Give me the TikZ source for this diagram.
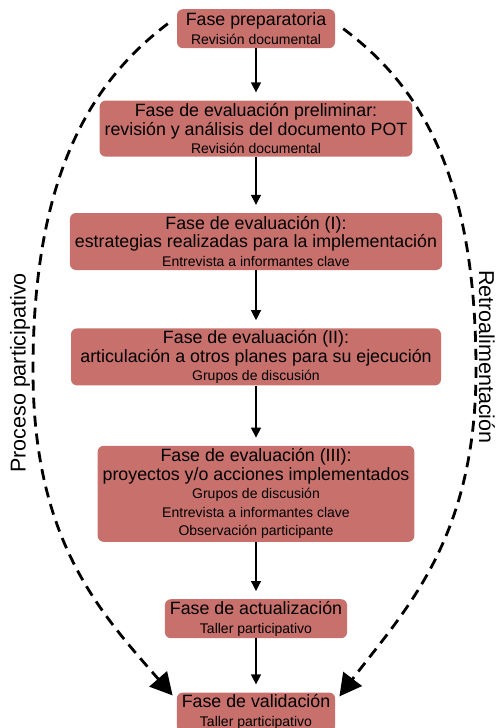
\documentclass[tikz,border=0pt]{standalone}
\usepackage{fontspec}
\setmainfont{Liberation Sans}
\usetikzlibrary{positioning, arrows.meta}
\definecolor{fasecolor}{RGB}{200,113,108}
\newcommand{\metodo}{\fontsize{14}{19}\selectfont}

\begin{document}
\begin{tikzpicture}[
    	x=1pt, y=-1pt,
    	fase/.style={rectangle, rounded corners=6pt, fill=fasecolor, align=center, inner xsep=5pt, inner ysep=2pt, font=\fontsize{17.8}{18.5}\selectfont},
    	flecha/.style={line width=1.2pt, -{Triangle[length=10pt,width=10pt]}, shorten >=8pt},
    	retro/.style={line width=2.8pt, dash pattern=on 11pt off 7pt, -{Triangle[length=22pt,width=23pt]}},
    	etiqueta/.style={font=\fontsize{21.5}{24}\selectfont}
    	]
    	\useasboundingbox (0,0) rectangle (498,728);
    	
    	% fases
    	\node (prep) [fase, minimum height=39pt, minimum width=158pt] at (256,28.7) {Fase preparatoria\\ \metodo Revisión documental};
    	\node (prelim) [fase, minimum height=56pt, minimum width=311pt, below=52pt of prep] {Fase de evaluación preliminar:\\ revisión y análisis del documento POT\\ \metodo Revisión documental};
    	\node (evaluno) [fase, minimum height=57pt, minimum width=370pt, below=56pt of prelim] {Fase de evaluación (I):\\ estrategias realizadas para la implementación\\ \metodo Entrevista a informantes clave};
    	\node (evaldos) [fase, minimum height=56pt, minimum width=370pt, below=58pt of evaluno] {Fase de evaluación (II):\\ articulación a otros planes para su ejecución\\ \metodo Grupos de discusión};
    	\node (evaltres) [fase, minimum height=96pt, minimum width=309pt, below=60pt of evaldos] {Fase de evaluación (III):\\ proyectos y/o acciones implementados\\ \metodo Grupos de discusión\\ \metodo Entrevista a informantes clave\\ \metodo Observación participante};
    	\node (actual) [fase, minimum height=39pt, minimum width=181pt, below=57pt of evaltres] {Fase de actualización\\ \metodo Taller participativo};
    	\node (valid) [fase, minimum height=39pt, minimum width=157pt, below=54pt of actual] {Fase de validación\\ \metodo Taller participativo};
    	
    	% etiquetas laterales
    	\node (proceso) [etiqueta, rotate=90] at (20,373) {Proceso participativo};
    	\node (retroal) [etiqueta, rotate=-90] at (487,357) {Retroalimentación};
    	
    	% flechas centrales
    	\draw [flecha] (prep) -- (prelim);
    	\draw [flecha] (prelim) -- (evaluno);
    	\draw [flecha] (evaluno) -- (evaldos);
    	\draw [flecha] (evaldos) -- (evaltres);
    	\draw [flecha] (evaltres) -- (actual);
    	\draw [flecha] (actual) -- (valid);
    	
    	% curvas discontinuas
    	\draw [retro] ([xshift=-9pt,yshift=5pt]prep.west) .. controls (88,84) and (33,180) .. (33,370) .. controls (33,540) and (99,611) .. ([xshift=-4pt,yshift=-3pt]valid.north west);
    	\draw [retro] ([xshift=8pt]prep.east) .. controls (423,88) and (476,180) .. (476,370) .. controls (476,540) and (404,611) .. ([xshift=4pt,yshift=-4pt]valid.north east);
    	
    \end{tikzpicture}
\end{document}
